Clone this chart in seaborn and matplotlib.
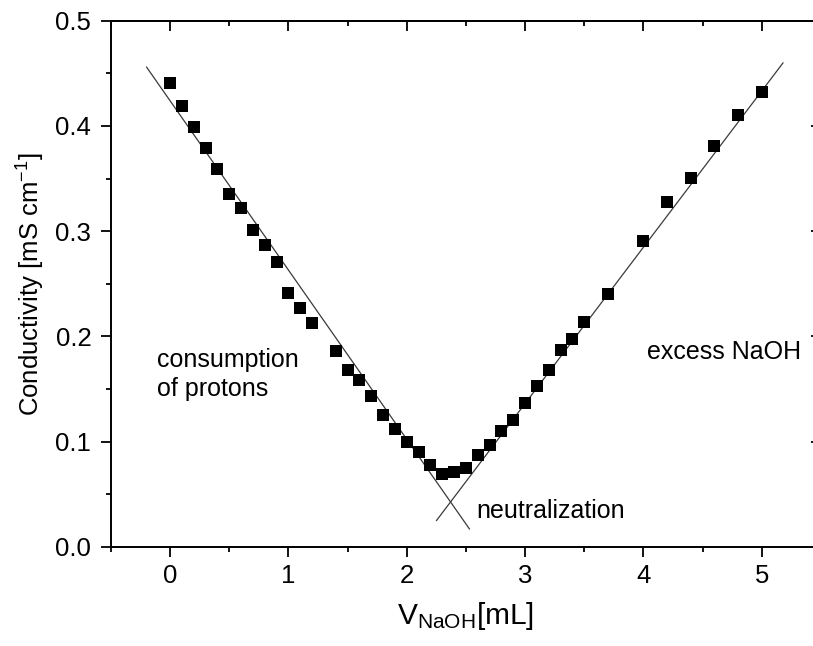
import matplotlib.pyplot as plt
import pandas as pd
import seaborn as sns
from matplotlib.ticker import MultipleLocator

# titration data
volume_ml = [
    0.0, 0.1, 0.2, 0.3, 0.4, 0.5, 0.6, 0.7, 0.8, 0.9, 1.0, 1.1, 1.2,
    1.4, 1.5, 1.6, 1.7, 1.8, 1.9, 2.0, 2.1, 2.2, 2.3, 2.4, 2.5, 2.6,
    2.7, 2.8, 2.9, 3.0, 3.1, 3.2, 3.3, 3.4, 3.5, 3.7, 4.0, 4.2, 4.4,
    4.6, 4.8, 5.0,
]
conductivity = [
    0.441, 0.419, 0.399, 0.379, 0.359, 0.335, 0.322, 0.301, 0.287, 0.271,
    0.241, 0.227, 0.213, 0.186, 0.168, 0.159, 0.143, 0.125, 0.112, 0.100,
    0.090, 0.078, 0.069, 0.071, 0.075, 0.087, 0.097, 0.110, 0.121, 0.137,
    0.153, 0.168, 0.187, 0.198, 0.214, 0.240, 0.291, 0.328, 0.351, 0.381,
    0.410, 0.432,
]

# straight fit lines (end points)
acid_fit_x = [-0.2, 2.53]
acid_fit_y = [0.456, 0.017]
base_fit_x = [2.25, 5.18]
base_fit_y = [0.025, 0.460]

x_ticks = [0, 1, 2, 3, 4, 5]
y_ticks = [0.0, 0.1, 0.2, 0.3, 0.4, 0.5]

df = pd.DataFrame({"V": volume_ml, "kappa": conductivity})

sns.set_theme(style="ticks")
plt.rcParams["font.family"] = ["Liberation Sans", "DejaVu Sans"]
plt.rcParams["mathtext.fontset"] = "custom"
plt.rcParams["mathtext.rm"] = "Liberation Sans"
plt.rcParams["mathtext.it"] = "Liberation Sans:italic"
plt.rcParams["text.color"] = "black"
plt.rcParams["axes.labelcolor"] = "black"
plt.rcParams["xtick.color"] = "black"
plt.rcParams["ytick.color"] = "black"

fig = plt.figure(figsize=(8.13, 6.46), dpi=100)
ax = fig.add_axes([0.1365, 0.1533, 0.8733, 0.8147])

sns.lineplot(x=acid_fit_x, y=acid_fit_y, ax=ax, color="#3a3a3a", linewidth=0.9,
             estimator=None, sort=False)
sns.lineplot(x=base_fit_x, y=base_fit_y, ax=ax, color="#3a3a3a", linewidth=0.9,
             estimator=None, sort=False)
sns.scatterplot(data=df, x="V", y="kappa", ax=ax, marker="s", s=72,
                color="black", linewidth=0, zorder=3)

ax.set_xlim(-0.5, 5.5)
ax.set_ylim(0.0, 0.5)
ax.set_xticks(x_ticks)
ax.set_yticks(y_ticks)
ax.set_xticklabels([str(t) for t in x_ticks])
ax.set_yticklabels([f"{t:.1f}" for t in y_ticks])
ax.xaxis.set_minor_locator(MultipleLocator(0.5))
ax.yaxis.set_minor_locator(MultipleLocator(0.05))

for side in ["left", "bottom", "top", "right"]:
    ax.spines[side].set_visible(True)
    ax.spines[side].set_linewidth(1.4)
    ax.spines[side].set_color("black")

ax.tick_params(which="both", direction="out", top=False, right=False,
               color="black", width=1.3, labelsize=18.5, labelcolor="black")
ax.tick_params(axis="x", pad=5)
ax.tick_params(axis="y", pad=7)
ax.tick_params(which="major", length=7.2)
ax.tick_params(which="minor", length=3.6)

# inward ticks on top and right
top = ax.secondary_xaxis("top")
top.set_xticks(x_ticks)
top.xaxis.set_minor_locator(MultipleLocator(0.5))
top.tick_params(which="both", direction="in", labeltop=False, width=1.3)
top.tick_params(which="major", length=7.2)
top.tick_params(which="minor", length=3.6)
top.spines["top"].set_linewidth(1.4)

right = ax.secondary_yaxis("right")
right.set_yticks(y_ticks)
right.yaxis.set_minor_locator(MultipleLocator(0.05))
right.tick_params(which="both", direction="in", labelright=False, width=1.3)
right.tick_params(which="major", length=7.2)
right.tick_params(which="minor", length=3.6)

ax.set_xlabel(r"V$_{\mathregular{NaOH}}$[mL]", fontsize=21.5, labelpad=9)
ax.set_ylabel(r"Conductivity [mS cm$^{\mathregular{-1}}$]", fontsize=18.5, labelpad=6)

ax.text(-0.11, 0.171, "consumption", fontsize=18, va="baseline", ha="left")
ax.text(-0.11, 0.143, "of protons", fontsize=18, va="baseline", ha="left")
ax.text(4.03, 0.179, "excess NaOH", fontsize=18, va="baseline", ha="left")
ax.text(2.59, 0.0276, "neutralization", fontsize=18, va="baseline", ha="left")

fig.savefig("out.png", dpi=100)
